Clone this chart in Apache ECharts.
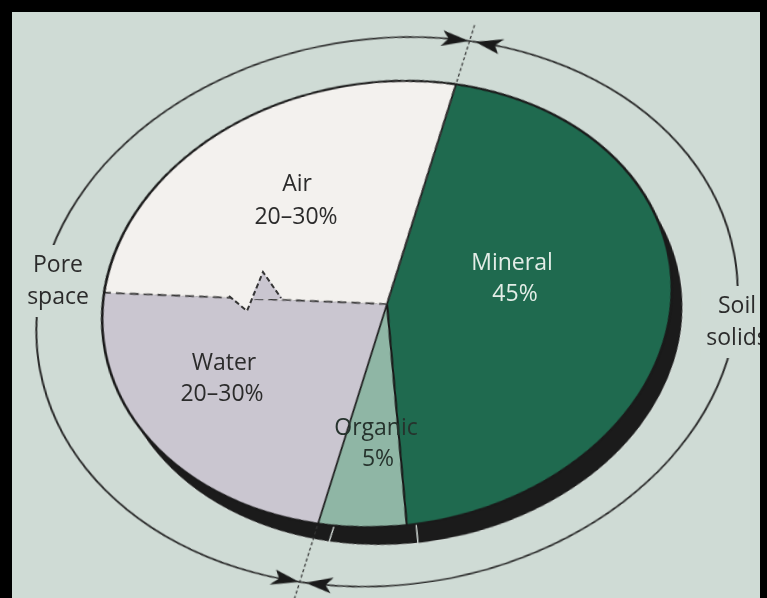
<!DOCTYPE html>
<html>
<head>
<meta charset="utf-8">
<script src="https://cdn.jsdelivr.net/npm/echarts@6/dist/echarts.min.js"></script>
<style>
  html, body { margin: 0; padding: 0; width: 767px; height: 598px; overflow: hidden; background: #000; }
  #paper { position: absolute; left: 12px; top: 12px; width: 748px; height: 586px; background: #cfdbd5; }
  #disk { position: absolute; left: -13px; top: -96px; width: 800px; height: 800px;
    transform-origin: 400px 400px; transform: rotate(-7.7deg) scaleY(0.776); }
  #text { position: absolute; left: 0; top: 0; width: 767px; height: 598px; }
  #frame { position: absolute; left: 0; top: 0; width: 767px; height: 598px; box-sizing: border-box;
    border-style: solid; border-color: #000; border-width: 12px 7px 0 12px; pointer-events: none; }
</style>
</head>
<body>
<div id="paper"></div>
<div id="disk"></div>
<div id="text"></div>
<div id="frame"></div>
<script>
// soil composition, clockwise from the top
const categories = ['Mineral', 'Organic', 'Water', 'Air']
const values = [45, 5, 23, 27]
const valueLabels = ['45%', '5%', '20–30%', '20–30%']
// outer brackets
const groups = ['Soil\nsolids', 'Pore\nspace']
const groupValues = [50, 50]

const START = 70
const R = 286
const CX = 400
const CY = 400
const BX = 399
const BY = 410
const BR = 352
const BG = '#cfdbd5'
const INK = '#1a1a1a'

const fills = ['#1f6a4f', '#8fb6a5', '#cac6d0', '#f3f1ee']
const edges = [
  {borderColor: INK, borderWidth: 1.8},
  {borderColor: INK, borderWidth: 1.8},
  {borderWidth: 0},
  {borderColor: '#353535', borderWidth: 2.2, borderType: [9, 5]},
]

function polar (cx, cy, r, deg) {
  const a = deg * Math.PI / 180
  return [cx + r * Math.cos(a), cy - r * Math.sin(a)]
}

const groupTotal = groupValues.reduce((a, b) => a + b, 0)
const dividers = []
let acc = START
groupValues.forEach(v => {
  dividers.push(acc)
  acc -= v * 360 / groupTotal
})
const reach = [365, 392]

const diskGraphics = []
dividers.forEach((d, i) => {
  const a = polar(CX, CY, R + 3, d)
  const b = polar(CX, CY, reach[i], d)
  diskGraphics.push({
    type: 'line',
    shape: {x1: a[0], y1: a[1], x2: b[0], y2: b[1]},
    style: {stroke: '#333', lineWidth: 1.3, lineDash: [4, 3]},
    z: 50,
  })
  ;[1, -1].forEach(s => {
    diskGraphics.push({
      type: 'polygon',
      shape: {
        points: [
          polar(BX, BY, BR, d + s * 0.5),
          polar(BX, BY, BR + 10, d + s * 5),
          polar(BX, BY, BR, d + s * 3.9),
          polar(BX, BY, BR - 10, d + s * 5),
        ],
      },
      style: {fill: INK},
      z: 60,
    })
  })
})

const basePie = {
  type: 'pie',
  silent: true,
  startAngle: START,
  clockwise: true,
  label: {show: false},
  labelLine: {show: false},
  emphasis: {disabled: true},
}

const disk = echarts.init(document.getElementById('disk'))
disk.setOption({
  animation: false,
  series: [
    Object.assign({}, basePie, {
      name: 'edge',
      center: [408.5, 425],
      radius: R,
      data: values.map(v => ({value: v})),
      itemStyle: {color: '#1b1b1b', borderColor: '#dbe3df', borderWidth: 1.2},
    }),
    Object.assign({}, basePie, {
      name: 'soil',
      center: [CX, CY],
      radius: R,
      data: categories.map((c, i) => ({name: c, value: values[i], itemStyle: {color: fills[i], borderWidth: 0}})),
    }),
    Object.assign({}, basePie, {
      name: 'lines',
      center: [CX, CY],
      radius: R,
      data: categories.map((c, i) => ({name: c, value: values[i], itemStyle: Object.assign({color: 'transparent'}, edges[i])})),
    }),
    Object.assign({}, basePie, {
      name: 'outline',
      center: [CX, CY],
      radius: [R - 1.4, R + 1.2],
      data: [{value: 1}],
      itemStyle: {color: INK},
    }),
    Object.assign({}, basePie, {
      name: 'brackets',
      center: [BX, BY],
      radius: [BR - 1, BR + 1],
      data: groups.map((g, i) => ({name: g, value: groupValues[i]})),
      itemStyle: {color: '#2a2a2a'},
    }),
  ],
  graphic: {elements: diskGraphics},
})

// label layout on the page
const nameAt = [[512, 263], [376, 428], [224, 363], [297, 184]]
const valueAt = [[515, 294], [378, 459], [222, 394], [296, 217]]
const labelFill = ['#e3ede7', '#26332d', '#2b2b2b', '#2b2b2b']
const groupAt = [[737, 322], [58, 281]]

const font = {fontSize: 23, fontFamily: 'Open Sans'}
const texts = []
categories.forEach((c, i) => {
  texts.push({
    type: 'text', x: nameAt[i][0], y: nameAt[i][1], z: 20,
    style: Object.assign({text: c, fill: labelFill[i], align: 'center', verticalAlign: 'middle'}, font),
  })
  texts.push({
    type: 'text', x: valueAt[i][0], y: valueAt[i][1], z: 20,
    style: Object.assign({text: valueLabels[i], fill: labelFill[i], align: 'center', verticalAlign: 'middle'}, font),
  })
})
groups.forEach((g, i) => {
  texts.push({
    type: 'text', x: groupAt[i][0], y: groupAt[i][1], z: 20,
    style: Object.assign({
      text: g, fill: '#2b2b2b', align: 'center', verticalAlign: 'middle',
      lineHeight: 32, backgroundColor: BG, padding: [4, 6],
    }, font),
  })
})

// little wave on the water surface
texts.push({
  type: 'polygon', z: 5,
  shape: {points: [[250, 299], [263, 272], [283, 299]]},
  style: {fill: fills[2]},
})
texts.push({
  type: 'polygon', z: 5,
  shape: {points: [[229, 295], [247, 311], [254, 295]]},
  style: {fill: fills[3]},
})
texts.push({
  type: 'polyline', z: 6,
  shape: {points: [[229, 296], [247, 311], [263, 272], [281, 298]]},
  style: {stroke: '#353535', lineWidth: 2, lineDash: [5, 3], fill: null},
})

const overlay = echarts.init(document.getElementById('text'))
overlay.setOption({
  animation: false,
  graphic: {elements: texts},
})
</script>
</body>
</html>
